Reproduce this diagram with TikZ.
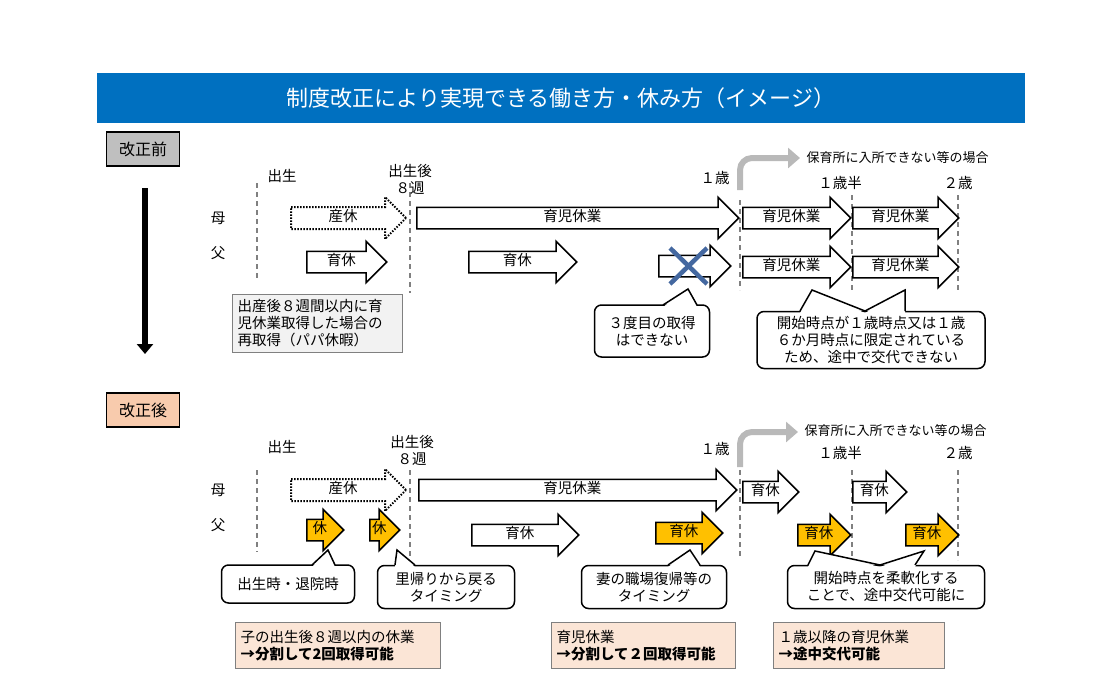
\documentclass[tikz,border=0pt]{standalone}
\usepackage{fontspec}
\setmainfont{Noto Sans CJK JP}
\usetikzlibrary{shapes.arrows,arrows.meta}
\definecolor{titleblue}{RGB}{0,112,192}
\definecolor{leaveorange}{RGB}{255,192,0}
\definecolor{peach}{RGB}{251,229,214}
\definecolor{tagpeach}{RGB}{248,203,173}
\definecolor{crossblue}{RGB}{68,104,160}
\begin{document}
\begin{tikzpicture}[x=1pt,y=-1pt,font=\fontsize{14.5pt}{17pt}\selectfont,
    arr/.style={single arrow,draw=black,line width=1.5pt,fill=white,anchor=tail,
        single arrow head extend=10pt,text height=10pt,text depth=3pt,
        inner ysep=3.5pt,inner xsep=2pt},
    dotarr/.style={arr,dash pattern=on 1.5pt off 1.5pt,line width=2pt},
    orng/.style={fill=leaveorange},
    tick/.style={dash pattern=on 5pt off 4pt,gray,line width=1.6pt},
    tag/.style={draw=black,line width=1.2pt,minimum width=73pt,minimum height=34pt,font=\fontsize{16pt}{18pt}\selectfont},
    bubble/.style={draw=black,line width=1.5pt,fill=white,rounded corners=7pt,align=center,inner sep=2pt},
    ptr/.style={line width=1.5pt},
    note/.style={draw=gray,line width=1.2pt,align=left,anchor=north west,inner sep=5pt},
    turnarr/.style={line width=6pt,gray!55,rounded corners=12pt,-{Triangle[length=12pt,width=20pt]}},
    lbl/.style={font=\fontsize{13pt}{15pt}\selectfont}]
\useasboundingbox (0,0) rectangle (1117,694);

% title
\node[fill=titleblue,minimum width=928pt,minimum height=50pt,text=white,font=\fontsize{22pt}{25pt}\selectfont] (title) at (561,98) {制度改正により実現できる働き方・休み方（イメージ）};

% before / after tags
\node[tag,fill=gray!50] (before) at (143,149) {改正前};
\node[tag,fill=tagpeach] (after) at (143,410) {改正後};
\coordinate (dtop) at (145,188);
\coordinate (dbot) at (145,354);
\draw[line width=6pt,-{Triangle[length=10pt,width=16pt]}] (dtop) -- (dbot);

%%%%%%%%%%%%%%%% before
\foreach \x/\a/\b in {257/183/280,410/183/293,740/200/290,852/195/292,958/195/292}
  \draw[tick] (\x,\a) -- (\x,\b);
\node (b-birth) at (282,176) {出生};
\node[align=center,font=\fontsize{14.5pt}{17pt}\selectfont] (b-8w) at (410,179) {出生後\\８週};
\node (b-1y) at (715,178) {１歳};
\node (b-15y) at (840,183) {１歳半};
\node (b-2y) at (958,183) {２歳};
\node (b-mom) at (218,218) {母};
\node (b-dad) at (218,253) {父};
\coordinate (b-bs) at (740,190);
\coordinate (b-be) at (800,158);
\draw[turnarr] (b-bs) |- (b-be);
\node[lbl,anchor=west] (b-nursery) at (803,158) {保育所に入所できない等の場合};

\node[dotarr,minimum height=115pt] (b-m1) at (290,218) {産休};
\node[arr,minimum height=322pt] (b-m2) at (416,218) {育児休業};
\node[arr,minimum height=108pt] (b-m3) at (742,218) {育児休業};
\node[arr,minimum height=106pt] (b-m4) at (852,218) {育児休業};
\node[arr,minimum height=80pt] (b-d1) at (306,262) {育休};
\node[arr,minimum height=108pt] (b-d2) at (468,262) {育休};
\node[arr,minimum height=72pt] (b-d3) at (658,266) {};
\node[arr,minimum height=108pt] (b-d4) at (742,267) {育児休業};
\node[arr,minimum height=106pt] (b-d5) at (852,267) {育児休業};
\coordinate (x1) at (670,248); \coordinate (x2) at (707,284);
\coordinate (x3) at (707,248); \coordinate (x4) at (670,284);
\draw[line width=4.5pt,crossblue] (x1) -- (x2) (x3) -- (x4);

\node[note,fill=gray!10,text width=160pt] (b-papa) at (232,294) {出産後８週間以内に育\\児休業取得した場合の\\再取得（パパ休暇）};

\node[bubble,minimum width=115pt,minimum height=52pt] (b-third) at (652,331) {３度目の取得\\はできない};
\coordinate (b-t1) at (688,289);
\fill[white] (663,307) -- (b-t1) -- (697,307) -- cycle;
\draw[ptr] (663,305) -- (b-t1) -- (697,305);
\node[bubble,minimum width=228pt,minimum height=57pt,align=center] (b-fixed) at (871,340) {開始時点が１歳時点又は１歳\\６か月時点に限定されている\\ため、途中で交代できない};
\coordinate (b-t2) at (812,290); \coordinate (b-t3) at (905,290);
\fill[white] (800,313) -- (b-t2) -- (865,313) -- (b-t3) -- (905,313) -- cycle;
\draw[ptr] (800,311) -- (b-t2) -- (865,311) -- (b-t3) -- (905,311);

%%%%%%%%%%%%%%%% after
\foreach \x/\a/\b in {257/470/552,410/470/557,740/470/557,852/470/560,958/470/560}
  \draw[tick] (\x,\a) -- (\x,\b);
\node (a-birth) at (282,447) {出生};
\node[align=center,font=\fontsize{14.5pt}{17pt}\selectfont] (a-8w) at (412,450) {出生後\\８週};
\node (a-1y) at (715,449) {１歳};
\node (a-15y) at (840,453) {１歳半};
\node (a-2y) at (958,453) {２歳};
\node (a-mom) at (218,490) {母};
\node (a-dad) at (218,525) {父};
\coordinate (a-bs) at (740,467);
\coordinate (a-be) at (798,432);
\draw[turnarr] (a-bs) |- (a-be);
\node[lbl,anchor=west] (a-nursery) at (801,431) {保育所に入所できない等の場合};

\node[dotarr,minimum height=115pt] (a-m1) at (290,490) {産休};
\node[arr,minimum height=318pt] (a-m2) at (418,490) {育児休業};
\node[arr,minimum height=56pt] (a-m3) at (742,492) {育休};
\node[arr,minimum height=54pt] (a-m4) at (852,492) {育休};
\node[arr,orng,minimum height=37pt,inner xsep=1pt] (a-d1) at (306,530) {休};
\node[arr,orng,minimum height=30pt,inner xsep=1pt] (a-d2) at (369,530) {休};
\node[arr,minimum height=107pt] (a-d3) at (471,535) {育休};
\node[arr,orng,minimum height=67pt] (a-d4) at (655,533) {育休};
\node[arr,orng,minimum height=53pt] (a-d5) at (797,535) {育休};
\node[arr,orng,minimum height=53pt] (a-d6) at (905,535) {育休};

\node[bubble,minimum width=133pt,minimum height=38pt] (a-birthtime) at (288,584) {出生時・退院時};
\coordinate (a-t1) at (328,550);
\fill[white] (312,567) -- (a-t1) -- (335,567) -- cycle;
\draw[ptr] (312,565) -- (a-t1) -- (335,565);
\node[bubble,minimum width=137pt,minimum height=43pt] (a-return) at (446,587) {里帰りから戻る\\タイミング};
\coordinate (a-t2) at (397,550);
\fill[white] (395,567) -- (a-t2) -- (415,567) -- cycle;
\draw[ptr] (395,565) -- (a-t2) -- (415,565);
\node[bubble,minimum width=145pt,minimum height=43pt] (a-wife) at (654,587) {妻の職場復帰等の\\タイミング};
\coordinate (a-t3) at (690,550);
\fill[white] (668,567) -- (a-t3) -- (700,567) -- cycle;
\draw[ptr] (668,565) -- (a-t3) -- (700,565);
\node[bubble,minimum width=197pt,minimum height=43pt] (a-flex) at (886,587) {開始時点を柔軟化する\\ことで、途中交代可能に};
\coordinate (a-t4) at (815,551); \coordinate (a-t5) at (924,551);
\fill[white] (808,567) -- (a-t4) -- (880,567) -- (a-t5) -- (915,567) -- cycle;
\draw[ptr] (808,565) -- (a-t4) -- (880,565) -- (a-t5) -- (915,565);

\node[note,fill=peach,text width=195pt,minimum height=46pt] (a-sum1) at (235,622) {子の出生後８週以内の休業\\\textbf{→分割して2回取得可能}};
\node[note,fill=peach,text width=174pt,minimum height=46pt] (a-sum2) at (551,622) {育児休業\\\textbf{→分割して２回取得可能}};
\node[note,fill=peach,text width=161pt,minimum height=46pt] (a-sum3) at (773,622) {１歳以降の育児休業\\\textbf{→途中交代可能}};
\end{tikzpicture}
\end{document}
